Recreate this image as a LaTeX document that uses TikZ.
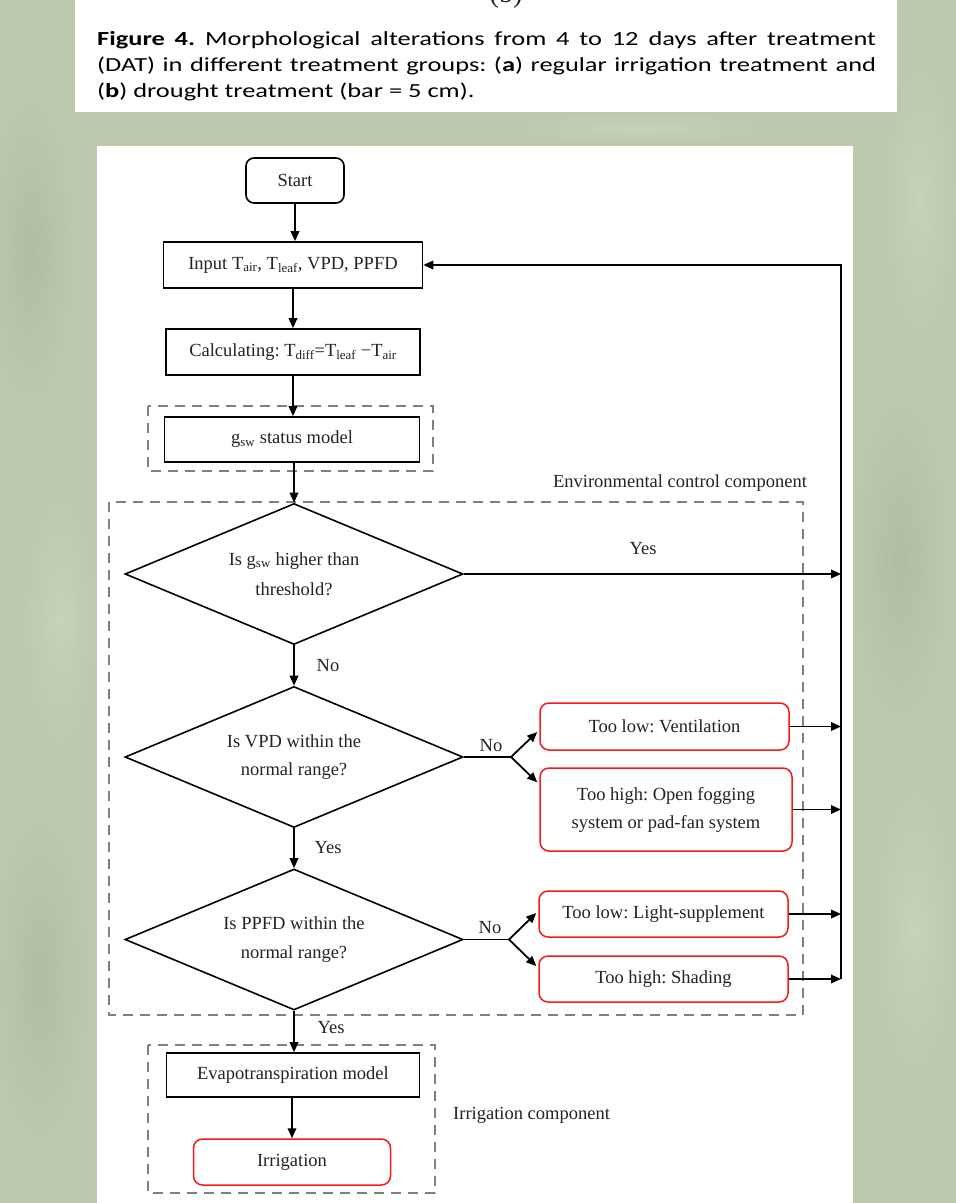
\documentclass[tikz,border=0pt]{standalone}
\usepackage{graphicx}
\usepackage{fontspec}
\setmainfont{Liberation Serif}
\newfontfamily\capfont{Carlito}
\usetikzlibrary{arrows.meta,shapes.geometric,calc}
\definecolor{bggreen}{RGB}{188,201,173}
\definecolor{bgdark}{RGB}{160,177,145}
\definecolor{bglight}{RGB}{212,222,201}
\definecolor{dashgray}{RGB}{128,128,128}
\definecolor{boxred}{RGB}{245,25,30}
\definecolor{ink}{RGB}{35,35,35}
\tikzset{
  box/.style={draw=black, line width=1.6pt, inner sep=0pt, text=ink, align=center},
  startbox/.style={box, rounded corners=8pt},
  redbox/.style={draw=boxred, line width=1.5pt, rounded corners=9pt, inner sep=0pt, text=ink, align=center},
  dec/.style={diamond, draw=black, line width=1.6pt, inner sep=0pt, aspect=2.4,
              minimum width=338pt, minimum height=141pt, text=ink, align=center},
  arr/.style={draw=black, line width=1.8pt, line join=miter, -{Triangle[length=10pt,width=8.5pt]}},
  link/.style={draw=black, line width=1.8pt},
  grp/.style={draw=dashgray, line width=1.9pt, dash pattern=on 10pt off 7pt},
  lbl/.style={inner sep=0pt, text=ink},
  capline/.style={anchor=base west, inner sep=0pt, text=black, font=\capfont\fontsize{20}{26}\selectfont},
  softpatch/.style={opacity=0.45},
}
% caption is set in Calibri-like type, stretched horizontally as in the reference
\newcommand{\evenline}[1]{\scalebox{1.32}[1]{\makebox[590pt][s]{\spaceskip=4.5pt plus 1fil minus 1pt\xspaceskip=4.5pt plus 1fil minus 1pt #1}}}
\newcommand{\wideline}[1]{\scalebox{1.32}[1]{#1}}
\begin{document}
\frenchspacing
\begin{tikzpicture}[x=1pt, y=-1pt, font=\fontsize{18.5}{26}\selectfont]
\useasboundingbox (0,0) rectangle (956,1203);
% background (blurred foliage)
\fill[bggreen] (0,0) rectangle (956,1203);
\shade[softpatch, inner color=bgdark, outer color=bggreen] (30,250) ellipse (45 and 160);
\shade[softpatch, inner color=bglight, outer color=bggreen] (60,620) ellipse (40 and 140);
\shade[softpatch, inner color=bgdark, outer color=bggreen] (40,980) ellipse (50 and 170);
\shade[softpatch, inner color=bglight, outer color=bggreen] (920,200) ellipse (40 and 150);
\shade[softpatch, inner color=bgdark, outer color=bggreen] (900,560) ellipse (50 and 170);
\shade[softpatch, inner color=bglight, outer color=bggreen] (915,930) ellipse (45 and 160);
\shade[softpatch, inner color=bglight, outer color=bggreen] (640,128) ellipse (140 and 18);
% caption panel
\fill[white] (75,0) rectangle (897,112);
\node[anchor=base, inner sep=0pt, text=ink, font=\fontsize{28}{28}\selectfont] (bmark) at (506,2) {(b)};
\node[capline] (cap1) at (97,45) {\evenline{\textbf{Figure 4.} Morphological alterations from 4 to 12 days after treatment}};
\node[capline] (cap2) at (97,71) {\evenline{(DAT) in different treatment groups: (\textbf{a}) regular irrigation treatment and}};
\node[capline] (cap3) at (97,97) {\wideline{(\textbf{b}) drought treatment (bar = 5 cm).}};
% flowchart panel
\fill[white] (97,146) rectangle (853,1203);
% group frames
\draw[grp] (148,406) rectangle (433,471);
\draw[grp] (109,502) rectangle (803,1015);
\draw[grp] (148,1045) rectangle (435,1193);
\node[lbl] (envlbl) at (680,483) {Environmental control component};
\node[lbl, anchor=west] (irrlbl) at (453,1115) {Irrigation component};
% main column
\node[startbox, minimum width=98pt, minimum height=45pt] (start) at (295,180.5) {Start};
\node[box, minimum width=259pt, minimum height=46pt] (input) at (293,265) {Input T\textsubscript{air}, T\textsubscript{leaf}, VPD, PPFD};
\node[box, minimum width=254pt, minimum height=46pt] (calc) at (293,352) {Calculating: T\textsubscript{diff}=T\textsubscript{leaf} −T\textsubscript{air}};
\node[box, minimum width=255pt, minimum height=45pt] (gsw) at (292,439.5) {g\textsubscript{sw} status model};
\node[dec, font=\fontsize{18.5}{30}\selectfont] (d1) at (294,574) {Is g\textsubscript{sw} higher than\\threshold?};
\node[dec, font=\fontsize{18.5}{28}\selectfont] (d2) at (294,757) {Is VPD within the\\normal range?};
\node[dec, font=\fontsize{18.5}{29}\selectfont] (d3) at (294,939.5) {Is PPFD within the\\normal range?};
\node[box, minimum width=253pt, minimum height=44pt] (evapo) at (293,1075) {Evapotranspiration model};
\node[redbox, minimum width=197pt, minimum height=46pt] (irrig) at (292,1162) {Irrigation};
% right column
\node[redbox, minimum width=249pt, minimum height=47pt] (vent) at (664.5,726.5) {Too low: Ventilation};
\node[redbox, minimum width=252pt, minimum height=83pt, font=\fontsize{18.5}{28}\selectfont] (fog) at (666,809.5) {Too high: Open fogging\\system or pad-fan system};
\node[redbox, minimum width=249pt, minimum height=46pt] (light) at (663.5,914) {Too low: Light-supplement};
\node[redbox, minimum width=249pt, minimum height=46pt] (shade) at (663.5,979) {Too high: Shading};
% coordinates
\coordinate (b2) at (511,757);
\coordinate (b3) at (509,939.5);
\coordinate (railbot) at (841,979);
\coordinate (railtop) at (841,265);
% main arrows
\draw[arr] (start.south) -- (input.north -| start.south);
\draw[arr] (input.south -| calc.north) -- (calc.north);
\draw[arr] (calc.south) -- (gsw.north -| calc.south);
\draw[arr] (gsw.south -| d1.north) -- (d1.north);
\draw[arr] (d1.south) -- (d2.north);
\draw[arr] (d2.south) -- (d3.north);
\draw[arr] (d3.south) -- (evapo.north -| d3.south);
\draw[arr] (evapo.south -| irrig.north) -- (irrig.north);
\node[lbl] (no1) at (328,666) {No};
\node[lbl] (yes2) at (328,848) {Yes};
\node[lbl] (yes3) at (331,1028) {Yes};
% yes from d1 to rail
\draw[arr] (d1.east) -- (d1.east -| railbot);
\node[lbl] (yes1) at (643,549) {Yes};
% branches
\draw[link] (d2.east) -- (b2);
\draw[arr] (b2) -- ($(vent.west)+(-2,5.5)$);
\draw[arr] (b2) -- ($(fog.north west)+(-2,15)$);
\node[lbl] (no2) at (491,746) {No};
\draw[link] (d3.east) -- (b3);
\draw[arr] (b3) -- ($(light.west)+(-2,-1)$);
\draw[arr] (b3) -- ($(shade.west)+(-2,-13)$);
\node[lbl] (no3) at (490,928) {No};
% into rail
\draw[arr] (vent.east) -- (vent.east -| railbot);
\draw[arr] (fog.east) -- (fog.east -| railbot);
\draw[arr] (light.east) -- (light.east -| railbot);
\draw[arr] (shade.east) -- (shade.east -| railbot);
% feedback rail
\draw[arr] (railbot) -- (railtop) -- (input.east);
\end{tikzpicture}
\end{document}
